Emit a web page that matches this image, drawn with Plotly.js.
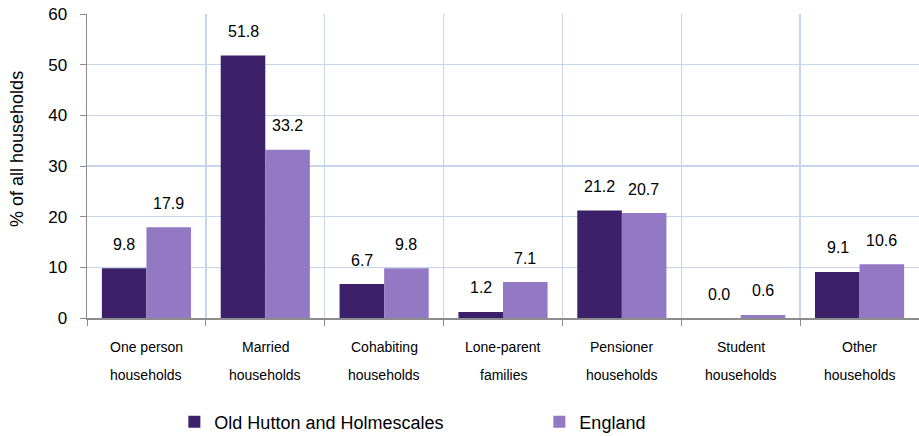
<!DOCTYPE html>
<html>
<head>
<meta charset="utf-8">
<script src="https://cdn.plot.ly/plotly-3.0.1.min.js"></script>
<style>
  html, body { margin: 0; padding: 0; background: #fff; }
  #plot { width: 919px; height: 436px; }
</style>
</head>
<body>
<div id="plot"></div>
<script>
// household composition, % of all households
var categories = ['One person', 'Married', 'Cohabiting', 'Lone-parent', 'Pensioner', 'Student', 'Other'];
var labelLine1 = ['One person', 'Married', 'Cohabiting', 'Lone-parent', 'Pensioner', 'Student', 'Other'];
var labelLine2 = ['households', 'households', 'households', 'families', 'households', 'households', 'households'];
var oldHutton = [9.8, 51.8, 6.7, 1.2, 21.2, 0.0, 9.1];
var england = [17.9, 33.2, 9.8, 7.1, 20.7, 0.6, 10.6];
var seriesNames = ['Old Hutton and Holmescales', 'England'];

var darkPurple = '#3c2069';
var lightPurple = '#9379c4';
var gridBlue = '#c6d6ea';
var axisGray = '#8c8c8c';
var font = 'Liberation Sans, Arial, sans-serif';

var trace1 = {
    x: categories,
    y: oldHutton,
    name: seriesNames[0],
    type: 'bar',
    marker: { color: darkPurple },
    hoverinfo: 'none'
};
var trace2 = {
    x: categories,
    y: england,
    name: seriesNames[1],
    type: 'bar',
    marker: { color: lightPurple },
    hoverinfo: 'none'
};

var annotations = [];
// value labels above each bar
categories.forEach(function(c, i) {
    annotations.push({
        x: c, y: oldHutton[i], xref: 'x', yref: 'y',
        text: oldHutton[i].toFixed(1), showarrow: false,
        xshift: -22, yshift: 24, yanchor: 'middle',
        font: { family: font, size: 16, color: '#000' }
    });
    annotations.push({
        x: c, y: england[i], xref: 'x', yref: 'y',
        text: england[i].toFixed(1), showarrow: false,
        xshift: 22, yshift: 24, yanchor: 'middle',
        font: { family: font, size: 16, color: '#000' }
    });
    // two-line category labels, spaced wider than plotly's <br>
    annotations.push({
        x: c, y: 0, xref: 'x', yref: 'y',
        text: labelLine1[i], showarrow: false,
        yshift: -29, yanchor: 'middle',
        font: { family: font, size: 14, color: '#000' }
    });
    annotations.push({
        x: c, y: 0, xref: 'x', yref: 'y',
        text: labelLine2[i], showarrow: false,
        yshift: -57, yanchor: 'middle',
        font: { family: font, size: 14, color: '#000' }
    });
});

// y title sits a bit above the axis middle in the original
annotations.push({
    x: 0, y: 0.556, xref: 'paper', yref: 'paper',
    xshift: -70, text: '% of all households', textangle: -90,
    showarrow: false, xanchor: 'center', yanchor: 'middle',
    font: { family: font, size: 18, color: '#000' }
});

var layout = {
    width: 919,
    height: 436,
    margin: { l: 87, r: 0, t: 14, b: 118, autoexpand: false },
    paper_bgcolor: '#fff',
    plot_bgcolor: '#fff',
    barmode: 'group',
    bargap: 0.25,
    bargroupgap: 0,
    font: { family: font, color: '#000' },
    xaxis: {
        type: 'category',
        showticklabels: false,
        tickson: 'boundaries',
        ticks: 'outside',
        ticklen: 6,
        tickcolor: axisGray,
        showgrid: true,
        gridcolor: gridBlue,
        gridwidth: 1.5,
        showline: true,
        linecolor: axisGray,
        linewidth: 1.5
    },
    yaxis: {
        range: [0, 60],
        dtick: 10,
        ticks: 'outside',
        ticklen: 6,
        tickcolor: axisGray,
        ticklabelstandoff: 9,
        tickfont: { family: font, size: 17, color: '#000' },
        showgrid: true,
        gridcolor: gridBlue,
        gridwidth: 1.5,
        zeroline: false,
        showline: true,
        linecolor: axisGray,
        linewidth: 1.5
    },
    showlegend: true,
    legend: {
        orientation: 'h',
        x: 0.105,
        xanchor: 'left',
        y: -0.342,
        yanchor: 'middle',
        entrywidth: 320,
        entrywidthmode: 'pixels',
        font: { family: 'Liberation Sans Narrow, Arial Narrow, Liberation Sans, Arial, sans-serif', size: 18, color: '#000' }
    },
    annotations: annotations
};

Plotly.newPlot('plot', [trace1, trace2], layout, { displayModeBar: false, staticPlot: true });
</script>
</body>
</html>
